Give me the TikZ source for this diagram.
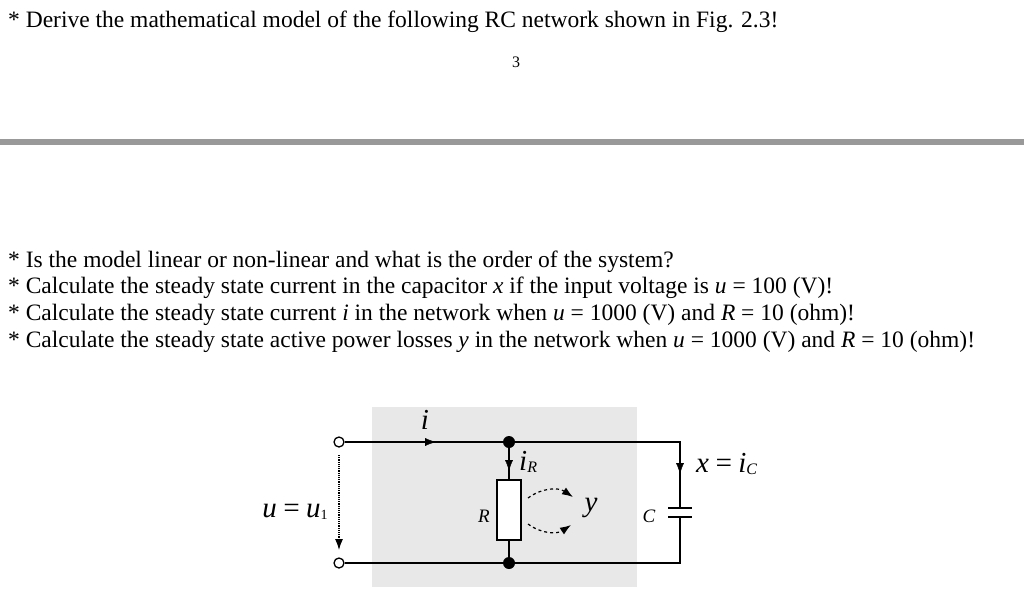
\documentclass[tikz,border=0pt]{standalone}
\usepackage{fontspec}
\setmainfont{Liberation Serif}
\usetikzlibrary{arrows.meta}
\begin{document}
\begin{tikzpicture}[x=1pt,y=-1pt,
  txt/.style={anchor=west,inner sep=0pt,font=\fontsize{23.5}{26}\selectfont},
  wire/.style={line width=1.6pt},
  dot/.style={circle,fill,inner sep=0pt,minimum size=12pt},
  term/.style={circle,draw,fill=white,line width=1.3pt,inner sep=0pt,minimum size=10pt},
  tip/.style={-{Latex[length=11pt,width=8pt]}},
  lab/.style={inner sep=0pt,font=\fontsize{29}{30}\selectfont\itshape}]
\useasboundingbox (0,0) rectangle (1024,598);
\fill[white] (0,0) rectangle (1024,598);
\node[txt] (t1) at (8,22) {* Derive the mathematical model of the following RC network shown in Fig. 2.3!};
\node[inner sep=0pt,font=\fontsize{16}{18}\selectfont] (n3) at (516,62) {3};
\fill[black!40] (0,139) rectangle (1024,145);
\node[txt] (q1) at (8,262) {* Is the model linear or non-linear and what is the order of the system?};
\node[txt] (q2) at (8,288) {* Calculate the steady state current in the capacitor \textit{x} if the input voltage is \textit{u} = 100 (V)!};
\node[txt] (q3) at (8,315) {* Calculate the steady state current \textit{i} in the network when \textit{u} = 1000 (V) and \textit{R} = 10 (ohm)!};
\node[txt] (q4) at (8,342) {* Calculate the steady state active power losses \textit{y} in the network when \textit{u} = 1000 (V) and \textit{R} = 10 (ohm)!};
% circuit
\fill[black!9] (372,407) rectangle (637,587);
\node[term] (a) at (339,442) {};
\node[term] (b) at (339,563) {};
\node[dot] (j1) at (509,442) {};
\node[dot] (j2) at (509,563) {};
\coordinate (c1) at (680,442);
\coordinate (c2) at (680,563);
\node[draw,wire,fill=white,minimum width=24pt,minimum height=60pt,inner sep=0pt] (R) at (509,510) {};
\coordinate (ct) at (680,508);
\coordinate (cb) at (680,517);
\draw[wire] (a) -- (j1) -- (c1) -- (ct);
\draw[wire] (b) -- (j2) -- (c2) -- (cb);
\draw[wire] (j1) -- (R.north);
\draw[wire] (R.south) -- (j2);
\draw[wire] (668,508) -- (692,508);
\draw[wire] (668,517) -- (692,517);
\draw[tip] (420,442) -- (436,442);
\draw[tip] (509,452) -- (509,471);
\draw[tip] (680,455) -- (680,474);
\draw[tip,dashed,line width=1.2pt] (528,498) to[bend left=35] (573,497);
\draw[tip,dashed,line width=1.2pt] (528,524) to[bend right=35] (571,525);
\draw[tip,densely dotted,line width=1.2pt] (339,455) -- (339,550);
\node[lab] (li) at (425,420) {i};
\node[lab,anchor=west] (liR) at (519,462) {i\raisebox{-2pt}{\fontsize{16}{16}\selectfont R}};
\node[lab,anchor=west] (lx) at (696,464) {x\,=\,i\raisebox{-2pt}{\fontsize{16}{16}\selectfont C}};
\node[inner sep=0pt,font=\fontsize{19}{20}\selectfont\itshape] (lR) at (484,516) {R};
\node[inner sep=0pt,font=\fontsize{19}{20}\selectfont\itshape] (lC) at (649,516) {C};
\node[lab] (ly) at (591,508) {y};
\node[lab] (lu) at (295,512) {u\,=\,u\raisebox{-2pt}{\fontsize{14}{14}\selectfont\upshape 1}};
\end{tikzpicture}
\end{document}
